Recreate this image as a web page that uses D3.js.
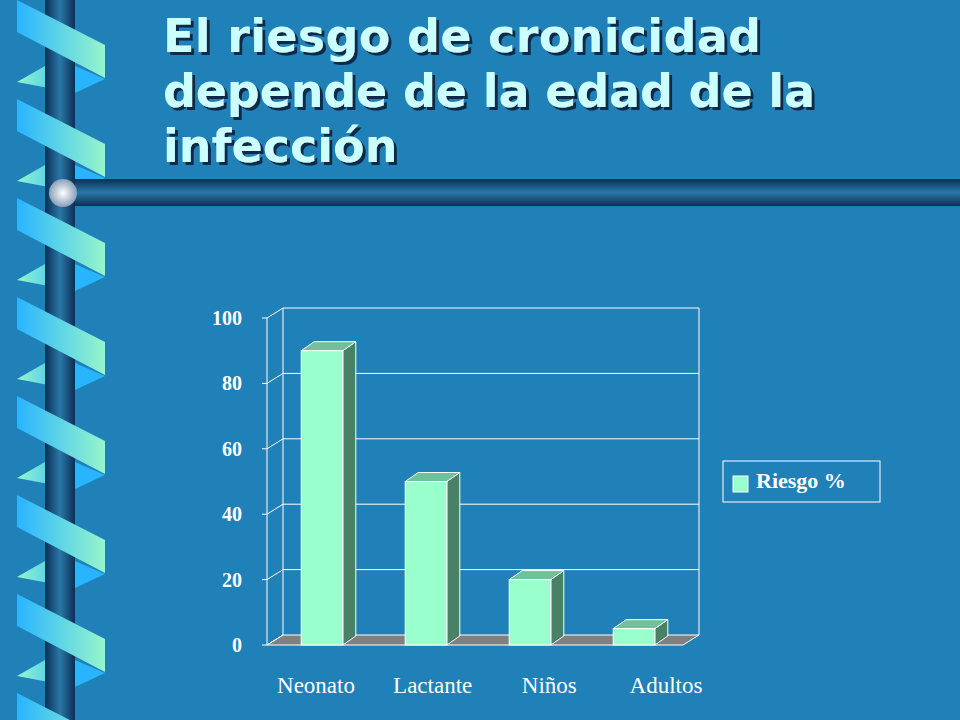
<!DOCTYPE html><html><head><meta charset="utf-8"><script src="https://cdn.jsdelivr.net/npm/d3@7"></script>
<style>body{margin:0;background:#2080b8}svg{display:block}</style></head><body>
<script>
const categories=["Neonato","Lactante","Niños","Adultos"];
const values=[90,50,20,5];
const yTicks=[0,20,40,60,80,100];
const titleLines=["El riesgo de cronicidad","depende de la edad de la","infección"];
const seriesName="Riesgo %";

const W=960,H=720;
const svg=d3.select("body").append("svg").attr("width",W).attr("height",H);
const defs=svg.append("defs");
const g1=defs.append("linearGradient").attr("id","rib");g1.append("stop").attr("offset","0").attr("stop-color","#28b4ff");g1.append("stop").attr("offset","1").attr("stop-color","#96f5cc");
const g2=defs.append("linearGradient").attr("id","ribB");g2.append("stop").attr("offset","0").attr("stop-color","#96f5cc");g2.append("stop").attr("offset","1").attr("stop-color","#28b4ff");
const gv=defs.append("linearGradient").attr("id","pole");[["0","#0a2f55"],["0.5","#2a78a8"],["1","#0a2f55"]].forEach(s=>gv.append("stop").attr("offset",s[0]).attr("stop-color",s[1]));
const gh=defs.append("linearGradient").attr("id","hbar").attr("x1",0).attr("x2",0).attr("y1",0).attr("y2",1);[["0","#0a2f55"],["0.5","#2a78a8"],["1","#0a2f55"]].forEach(s=>gh.append("stop").attr("offset",s[0]).attr("stop-color",s[1]));
const rg=defs.append("radialGradient").attr("id","ball");rg.append("stop").attr("offset","0").attr("stop-color","#fff");rg.append("stop").attr("offset","1").attr("stop-color","#8aa0b8");
const fl=defs.append("filter").attr("id","sh").attr("x","-5%").attr("y","-20%").attr("width","115%").attr("height","150%");
fl.append("feDropShadow").attr("dx",3).attr("dy",3).attr("stdDeviation",0.5).attr("flood-color","#0a2a4a").attr("flood-opacity",1);

svg.append("rect").attr("width",W).attr("height",H).attr("fill","#2080b8");
const deco=svg.append("g");
for(let k=-1;k<8;k++){const y0=k*99;
 deco.append("path").attr("d",`M17,${y0+82} L45,${y0+66} L75,${y0+66} L75,${y0+93} Z`).attr("fill","url(#ribB)");
 deco.append("path").attr("d",`M75,${y0+66} L105,${y0+79} L75,${y0+93} Z`).attr("fill","#28b4ff");
}
deco.append("rect").attr("x",45).attr("y",0).attr("width",30).attr("height",H).attr("fill","url(#pole)");
for(let k=-1;k<8;k++){const y0=k*99;
 deco.append("path").attr("d",`M17,${y0} L105,${y0+45} L105,${y0+78} L17,${y0+32} Z`).attr("fill","url(#rib)");
}
deco.append("rect").attr("x",75).attr("y",179).attr("width",885).attr("height",27).attr("fill","url(#hbar)");
deco.append("circle").attr("cx",63).attr("cy",193).attr("r",14).attr("fill","url(#ball)");

const tg=svg.append("g").attr("font-family","DejaVu Sans").attr("font-weight","bold").attr("font-size",46).attr("filter","url(#sh)");
titleLines.forEach((t,i)=>{
 tg.append("text").attr("x",163).attr("y",52+i*55).attr("fill","#ccffff").attr("textLength",i==0?598:i==1?652:null).text(t);
});

const dx=16,dy=-10;
const x=d3.scaleBand().domain(categories).range([267,683]).paddingInner(0.6).paddingOuter(0.3);
const xl=d3.scalePoint().domain(categories).range([316,666]);
const y=d3.scaleLinear().domain([0,100]).range([645,318]);
const c=svg.append("g");
c.append("path").attr("d",`M267,645 L${267+dx},${645+dy} L${683+dx},${645+dy} L683,645 Z`).attr("fill","#808080").attr("stroke","#fff").attr("stroke-width",1);
yTicks.forEach(t=>{
 if(t>0)c.append("line").attr("x1",267+dx).attr("x2",683+dx).attr("y1",y(t)+dy).attr("y2",y(t)+dy).attr("stroke","#fff");
 c.append("line").attr("x1",267).attr("x2",267+dx).attr("y1",y(t)).attr("y2",y(t)+dy).attr("stroke","#fff");
 c.append("line").attr("x1",262).attr("x2",267).attr("y1",y(t)).attr("y2",y(t)).attr("stroke","#fff");
});
c.append("line").attr("x1",267+dx).attr("x2",267+dx).attr("y1",y(0)+dy).attr("y2",y(100)+dy).attr("stroke","#fff");
c.append("line").attr("x1",683+dx).attr("x2",683+dx).attr("y1",y(0)+dy).attr("y2",y(100)+dy).attr("stroke","#fff");
c.append("line").attr("x1",267).attr("x2",267).attr("y1",y(0)).attr("y2",y(100)).attr("stroke","#fff");
const bd=13,bh=-9;
categories.forEach((cat,i)=>{
 const x0=x(cat)+3,w=x.bandwidth(),yt=y(values[i]),yb=y(0);
 const b=c.append("g").attr("stroke","#fff").attr("stroke-width",1);
 b.append("path").attr("d",`M${x0+w},${yb} L${x0+w+bd},${yb+bh} L${x0+w+bd},${yt+bh} L${x0+w},${yt} Z`).attr("fill","#4a7f68");
 b.append("path").attr("d",`M${x0},${yt} L${x0+bd},${yt+bh} L${x0+w+bd},${yt+bh} L${x0+w},${yt} Z`).attr("fill","#70c09a");
 b.append("rect").attr("x",x0).attr("y",yt).attr("width",w).attr("height",yb-yt).attr("fill","#99ffcc");
});
c.selectAll(".yl").data(yTicks).join("text").attr("x",242).attr("y",d=>y(d)+7).attr("text-anchor","end")
 .attr("font-family","Liberation Serif").attr("font-weight","bold").attr("font-size",20).attr("fill","#fff").text(d=>d);
c.selectAll(".xl").data(categories).join("text").attr("x",d=>xl(d)).attr("y",693).attr("text-anchor","middle")
 .attr("font-family","Liberation Serif").attr("font-size",23).attr("fill","#fff").text(d=>d);
c.append("rect").attr("x",723).attr("y",461).attr("width",157).attr("height",41).attr("fill","none").attr("stroke","#fff");
c.append("rect").attr("x",733).attr("y",476).attr("width",15).attr("height",16).attr("fill","#99ffcc").attr("stroke","#fff");
c.append("text").attr("x",756).attr("y",488).attr("font-family","Liberation Serif").attr("font-weight","bold").attr("font-size",22).attr("fill","#fff").text(seriesName);
</script></body></html>
